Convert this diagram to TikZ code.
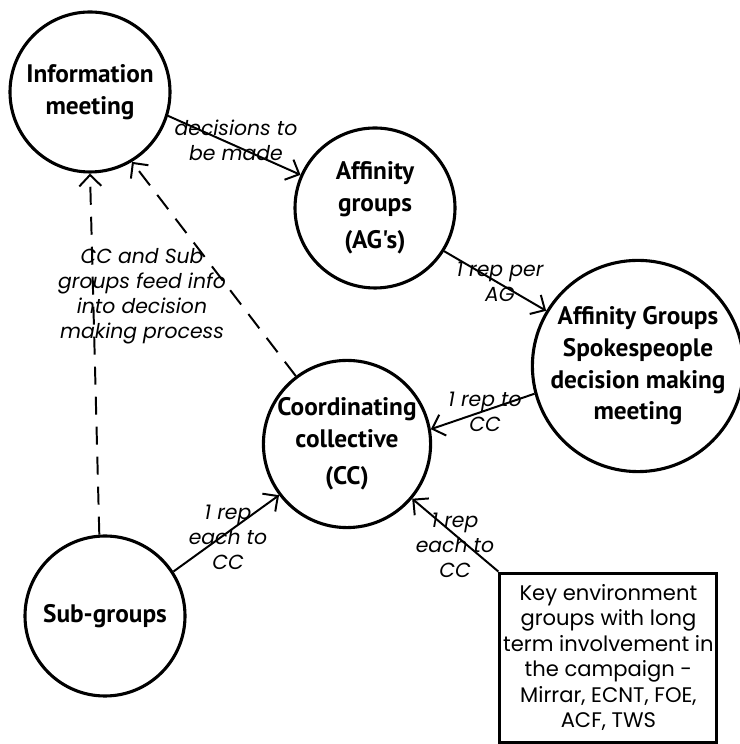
\documentclass[tikz,border=0pt]{standalone}
\usepackage{fontspec}
\setmainfont{Poppins}
\newfontfamily\circfont{PT Sans}
\usetikzlibrary{arrows.meta}

\begin{document}
\begin{tikzpicture}[
    hub/.style={draw, circle, line width=2.2pt, minimum size=4cm, inner sep=0pt, align=center,
        font=\circfont\bfseries\fontsize{18}{22.5}\selectfont},
    lbl/.style={align=center, font=\itshape\fontsize{14.5}{17.8}\selectfont},
    link/.style={line width=1.4pt, -{Straight Barb[length=2.8mm,width=5.5mm]}},
    feed/.style={link, dash pattern=on 4.5mm off 3mm}
]
    \useasboundingbox (0,0) rectangle (18.475,18.6);

    % meetings and groups
    \node[hub] (info) at (2.25,16.3) {Information\\meeting};
    \node[hub] (ag) at (9.375,13.4) {Affinity\\groups\\[4pt](AG's)};
    \node[hub, minimum size=5cm] (spokes) at (15.95,9.45) {Affinity Groups\\Spokespeople\\decision making\\meeting};
    \node[hub] (cc) at (8.675,7.5) {Coordinating\\collective\\[4pt](CC)};
    \node[hub] (sub) at (2.625,3.2) {Sub-groups};

    % key groups box
    \node[draw, line width=2.2pt, minimum width=5.425cm, minimum height=4.225cm, inner sep=1pt, align=center,
        font=\fontsize{15}{18.1}\selectfont] (key) at (15.21,2.16)
        {Key environment\\groups with long\\term involvement in\\the campaign -\\Mirrar, ECNT, FOE,\\ACF, TWS};

    % labels on the links
    \node[lbl] (made) at (5.9,15.1) {decisions to\\be made};
    \node[lbl] (perag) at (12.5,11.55) {1 rep per\\AG};
    \node[lbl] (tocc) at (12.125,8.3) {1 rep to\\CC};
    \node[lbl] (subrep) at (5.7,5.175) {1 rep\\each to\\CC};
    \node[lbl] (keyrep) at (11.375,4.975) {1 rep\\each to\\CC};
    \node[lbl] (feedinfo) at (3.55,11.2) {CC and Sub\\groups feed info\\into decision\\making process};

    % links
    \draw[link] (info.-17) -- (ag.156);
    \draw[link] (ag.-32) -- (spokes.149);
    \draw[link] (spokes.195) -- (cc.10);
    \draw[link] (sub.33) -- (cc.217);
    \draw[link] (key.north west) -- (cc.-40);

    % feedback
    \draw[feed] (sub.94) -- (info.-90);
    \draw[feed] (cc.127) -- (info.-59);

\end{tikzpicture}
\end{document}
